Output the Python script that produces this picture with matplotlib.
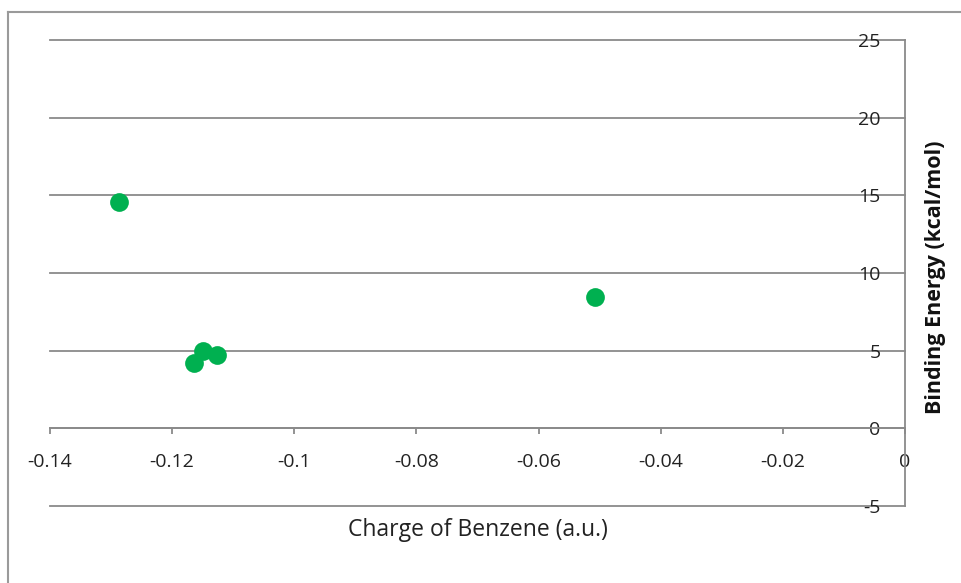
import numpy as np
import matplotlib
matplotlib.use('Agg')
import matplotlib.pyplot as plt
from matplotlib.lines import Line2D
from matplotlib.ticker import FuncFormatter

# data
charge = [-0.1287, -0.1165, -0.1150, -0.1127, -0.0507]
energy = [14.55, 4.20, 4.96, 4.74, 8.46]

xticks = [-0.14, -0.12, -0.1, -0.08, -0.06, -0.04, -0.02, 0]
yticks = [-5, 0, 5, 10, 15, 20, 25]

plt.rcParams['font.family'] = ['Open Sans', 'DejaVu Sans']

W, H = 962, 583
fig = plt.figure(figsize=(W / 100, H / 100), dpi=100)
ax = fig.add_axes([50 / W, (H - 506) / H, 855 / W, 466 / H])

grey = '#8a8a8a'

ax.scatter(charge, energy, s=13.5 ** 2, color='#00B050', zorder=3, linewidths=0)

ax.set_xlim(-0.14, 0)
ax.set_ylim(-5, 25)
ax.set_xticks(xticks)
ax.set_yticks(yticks)

def fmt(v, pos):
    s = ('%.2f' % v).rstrip('0').rstrip('.')
    if s in ('-0', '0'):
        return '0'
    return s

ax.xaxis.set_major_formatter(FuncFormatter(fmt))
ax.yaxis.set_major_formatter(FuncFormatter(lambda v, p: '%d' % v))

for side in ['top', 'left']:
    ax.spines[side].set_visible(False)
ax.spines['bottom'].set_position(('data', 0))
ax.spines['bottom'].set_color(grey)
ax.spines['bottom'].set_linewidth(1.3)
ax.spines['right'].set_color(grey)
ax.spines['right'].set_linewidth(1.3)

ax.yaxis.grid(True, color=grey, linewidth=1.3)
ax.set_axisbelow(True)
for gl in ax.get_ygridlines():
    gl.set_clip_on(False)

ax.yaxis.tick_right()
ax.tick_params(axis='y', length=0, pad=-17.5, labelsize=14, labelcolor='#222222')
for lab in ax.get_yticklabels():
    lab.set_horizontalalignment('right')
ax.tick_params(axis='x', direction='out', length=4, width=1.3, color=grey,
               pad=14, labelsize=14, labelcolor='#222222')

ax.set_xlabel('Charge of Benzene (a.u.)', fontsize=16.5, color='#222222')
ax.xaxis.label.set_verticalalignment('center')
ax.xaxis.set_label_coords(0.5, -0.052)
ax.set_ylabel('Binding Energy (kcal/mol)', fontsize=15.5, fontweight='bold', color='#111111')
ax.yaxis.set_label_position('right')
ax.yaxis.set_label_coords(1.023, 0.49)

# outer chart frame (cut off at right and bottom)
fig.add_artist(Line2D([8 / W, 8 / W], [0, (H - 12) / H], color='#9a9a9a', linewidth=1.5))
fig.add_artist(Line2D([8 / W, 1], [(H - 12) / H, (H - 12) / H], color='#9a9a9a', linewidth=1.5))

fig.savefig('out.png', dpi=100)
